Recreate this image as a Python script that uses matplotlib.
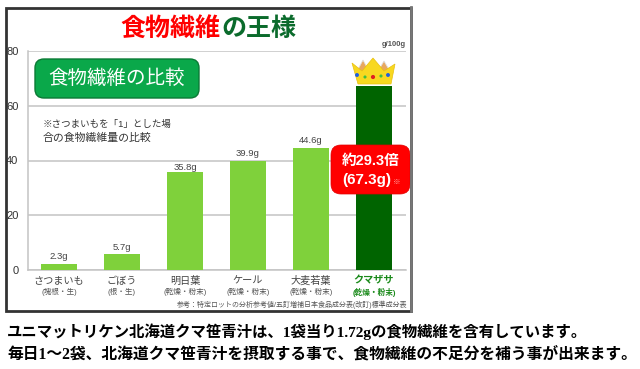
import matplotlib
matplotlib.use('Agg')
import matplotlib.pyplot as plt
from matplotlib.patches import FancyBboxPatch, Polygon, Rectangle

plt.rcParams['font.family'] = ['Liberation Sans', 'Noto Sans CJK JP', 'DejaVu Sans']

foods = ['さつまいも', 'ごぼう', '明日葉', 'ケール', '大麦若葉', 'クマザサ']
parts = ['(塊根・生)', '(根・生)', '(乾燥・粉末)', '(乾燥・粉末)', '(乾燥・粉末)', '(乾燥・粉末)']
fiber = [2.3, 5.7, 35.8, 39.9, 44.6, 67.3]
value_labels = ['2.3g', '5.7g', '35.8g', '39.9g', '44.6g']
bar_colors = ['#7fd13b', '#7fd13b', '#7fd13b', '#7fd13b', '#7fd13b', '#006400']
yticks = [0, 20, 40, 60, 80]

W, H = 640, 369
fig = plt.figure(figsize=(6.4, 3.69), dpi=100)

# main chart, placed by pixel edges of the picture
ax = fig.add_axes([27.5 / W, 1 - 270 / H, 378 / W, 219 / H])
ax.bar(range(len(fiber)), fiber, width=0.556, color=bar_colors, zorder=3)
ax.set_xlim(-0.5, 5.5)
ax.set_ylim(0, 80)
ax.set_yticks(yticks)
ax.tick_params(axis='y', length=0, labelsize=8, pad=6.5, labelcolor='#333333')
ax.tick_params(axis='x', length=0, labelsize=7.3, pad=4, labelcolor='#444444')
ax.set_xticks(range(len(foods)))
ax.set_xticklabels(foods)
ax.get_xticklabels()[-1].set_color('#1a8a1a')
ax.get_xticklabels()[-1].set_fontweight('bold')
ax.grid(axis='y', color='#c4c4c4', lw=1.1, zorder=0)
for name in ['top', 'right']:
    ax.spines[name].set_visible(False)
for name in ['left', 'bottom']:
    ax.spines[name].set_color('#c4c4c4')
    ax.spines[name].set_linewidth(1.1)

for i, lab in enumerate(value_labels):
    # the 35.8g label sits tight on its bar, right under the 40 line
    ax.annotate(lab, (i, fiber[i]), xytext=(0, 0 if i == 2 else 2), textcoords='offset points',
                ha='center', va='bottom', fontsize=6.8, color='#444444')
for i, lab in enumerate(parts):
    ax.annotate(lab, (i, 0), xytext=(0, -16), textcoords='offset points',
                ha='center', va='center', fontsize=5.5,
                color='#1a8a1a' if i == 5 else '#555555',
                fontweight='bold' if i == 5 else 'normal')

# everything around the chart is drawn in picture pixels
over = fig.add_axes([0, 0, 1, 1], zorder=5)
over.set_xlim(0, W)
over.set_ylim(H, 0)
over.axis('off')

over.add_patch(Rectangle((6, 7.5), 405, 303, fill=False, ec='#333333', lw=2))
over.plot([411, 411], [7, 311], color='#777777', lw=2)

over.text(120, 29, '食物繊維', color='#ff0000', fontsize=18, fontweight='bold', ha='left', va='center')
over.text(221, 29, 'の王様', color='#0b6b2c', fontsize=18, fontweight='bold', ha='left', va='center')
over.text(406, 44, 'g/100g', color='#555555', fontsize=5.5, fontweight='bold', ha='right', va='center')

over.add_patch(FancyBboxPatch((35, 59), 164, 39, boxstyle='round,pad=0,rounding_size=9',
                              fc='#0aa84a', ec='#0b7a35', lw=1))
over.text(117, 79, '食物繊維の比較', color='white', fontsize=14, ha='center', va='center')
over.text(43, 124, '※さつまいもを「1」とした場', color='#333333', fontsize=6.8, ha='left', va='center')
over.text(43, 138, '合の食物繊維量の比較', color='#333333', fontsize=7.8, ha='left', va='center')

over.text(407, 305, '参考：特定ロットの分析参考値/五訂増補日本食品成分表(改訂)標準成分表',
          color='#555555', fontsize=5, ha='right', va='center')

# red callout
over.add_patch(FancyBboxPatch((331, 145), 79, 49, boxstyle='round,pad=0,rounding_size=10',
                              fc='#ff0000', ec='#e00000', lw=0.5))
over.text(371, 161, '約29.3倍', color='white', fontsize=10.5, fontweight='bold', ha='center', va='center')
over.text(342, 180, '(67.3g)', color='white', fontsize=11, fontweight='bold', ha='left', va='center')
over.text(397, 182, '※', color='#ffb0b0', fontsize=5.5, ha='center', va='center')

# crown on the top bar
over.add_patch(Polygon([[356, 73], [363, 60], [370, 73]], fc='#e8a860', ec='#e0e0e0', lw=0.6))
over.add_patch(Polygon([[377, 73], [384, 61], [391, 73]], fc='#e8a860', ec='#e0e0e0', lw=0.6))
over.add_patch(Polygon([[352, 63], [362, 71], [373, 58], [384, 71], [395, 64], [391, 84], [358, 84]],
                       fc='#f8d820', ec='#e8c010', lw=0.5))
over.scatter([357, 365, 373, 381, 388], [75, 77, 77, 76, 75], s=[8, 5, 9, 5, 8],
             c=['#2060e0', '#40c040', '#e02020', '#40c040', '#2060e0'], linewidths=0, zorder=6)

# caption below the frame
cap = ['Liberation Serif', 'Noto Sans CJK JP']
over.text(7, 332, 'ユニマットリケン北海道クマ笹青汁は、1袋当り1.72gの食物繊維を含有しています。',
          family=cap, fontweight='bold', fontsize=11.1, color='black', ha='left', va='center')
over.text(7, 355, '毎日1～2袋、北海道クマ笹青汁を摂取する事で、食物繊維の不足分を補う事が出来ます。',
          family=cap, fontweight='bold', fontsize=11.35, color='black', ha='left', va='center')

fig.savefig('out.png', dpi=100)
